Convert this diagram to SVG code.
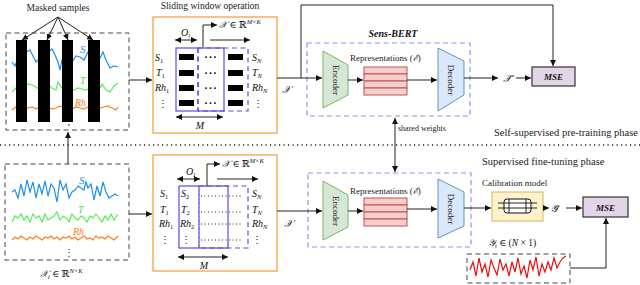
<svg xmlns="http://www.w3.org/2000/svg" width="640" height="285" viewBox="0 0 640 285">
<style>
.t{font-family:"Liberation Serif","DejaVu Serif",serif;fill:#222}
.m{font-family:"Liberation Serif","DejaVu Serif",serif;font-style:italic;fill:#111}
.dots{font-family:"DejaVu Sans",sans-serif;font-size:9px;font-weight:bold;letter-spacing:1px;fill:#111}
.ln{fill:none;stroke:#222;stroke-width:1}
.dbox{fill:none;stroke:#444;stroke-width:1;stroke-dasharray:5,3.5}
.obox{fill:#fff;stroke:#f5a14a;stroke-width:1.3}
.win{fill:none;stroke:#6a45e0;stroke-width:1.2}
.wind{fill:none;stroke:#6a45e0;stroke-width:1.2;stroke-dasharray:5,3.5}
.bert{fill:none;stroke:#8f8fff;stroke-width:1.2;stroke-dasharray:5,3.5}
.enc{fill:#d5e8d4;stroke:#82b366;stroke-width:1}
.dec{fill:#dae8fc;stroke:#6c8ebf;stroke-width:1}
.rep{fill:#f8cecc;stroke:#b85450;stroke-width:1}
.mse{fill:#e1d5e7;stroke:#333;stroke-width:1.2}
.blk{fill:#000}
.sb{fill:none;stroke:#1e8ff0;stroke-width:1.2}
.sg{fill:none;stroke:#55ee55;stroke-width:1.2}
.so{fill:none;stroke:#ff7f1a;stroke-width:1.2}
.sr{fill:none;stroke:#e81010;stroke-width:1.2}
</style>
<defs>
<marker id="ah" viewBox="0 0 6 6" refX="6" refY="3" markerWidth="6" markerHeight="6" markerUnits="userSpaceOnUse" orient="auto-start-reverse">
<path d="M0,0 L6,3 L0,6 z" fill="#111"/>
</marker>
</defs>

<!-- top input -->
<g id="masked-input">
<text class="t" x="58" y="11" font-size="9.5" text-anchor="middle">Masked samples</text>
<rect class="dbox" x="6" y="33" width="123" height="97"/>
<polyline class="sb" points="12,62 15,66 18,58 22,54 26,52 30,50 33,56 36,62 40,58 44,54 48,52 52,49 55,55 58,62 60,70 62,60 65,52 68,58 72,62 76,56 80,57 84,60 88,52 92,58 96,66 100,58 103,52 106,60 110,68 114,66 118,67"/>
<polyline class="sg" points="12,92 16,88 20,90 24,86 28,84 32,85 36,87 40,90 44,86 48,84 52,88 56,90 58,82 62,88 66,90 70,88 74,90 78,88 82,89 86,90 90,88 94,90 98,92 102,84 106,90 110,92 114,86 118,83"/>
<polyline class="so" points="12,110 16,107 20,108 24,106 28,108 32,107 36,109 40,106 44,108 48,107 52,109 56,108 60,106 64,108 68,107 72,109 76,107 80,108 84,109 88,107 92,108 96,110 100,108 104,107 108,106 112,108 116,110 118,107"/>
<text class="m" x="80" y="53" font-size="11" style="fill:#1e8ff0">S</text>
<text class="m" x="80" y="84" font-size="10" style="fill:#44dd44">T</text>
<text class="m" x="75" y="106" font-size="10" style="fill:#ff7f1a">Rh</text>
<rect class="blk" x="16" y="40" width="11" height="82"/>
<rect class="blk" x="38" y="40" width="12" height="82"/>
<rect class="blk" x="62" y="40" width="11" height="82"/>
<rect class="blk" x="88" y="40" width="12" height="82"/>
<circle cx="69" cy="125" r="0.8" fill="#111"/>
</g>

<!-- bottom input -->
<g id="raw-input">
<rect class="dbox" x="5" y="164" width="124" height="96"/>
<polyline class="sb" points="12,192 15,190 18,198 21,184 24,196 27,180 30,192 33,182 36,198 39,184 42,194 45,181 48,196 51,184 54,188 57,202 60,180 63,190 66,184 69,198 72,192 75,190 78,186 81,188 84,190 86,182 88,188 91,184 94,200 97,186 100,196 103,182 106,192 109,198 112,196 115,194 118,196"/>
<polyline class="sg" points="12,222 15,216 18,218 21,214 24,220 27,216 30,222 33,214 36,218 39,216 42,222 45,214 48,220 51,218 54,216 57,212 60,220 63,216 66,218 69,222 72,214 75,218 78,220 81,216 84,218 87,222 90,216 93,218 96,214 99,218 102,222 105,216 108,220 111,214 114,220 118,214"/>
<polyline class="so" points="12,240 15,237 18,239 21,236 24,238 27,240 30,237 33,239 36,236 39,238 42,240 45,237 48,238 51,236 54,239 57,237 60,240 63,237 66,238 69,236 72,239 75,237 78,240 81,238 84,236 87,239 90,238 93,240 96,236 99,238 102,237 105,239 108,236 111,238 114,240 118,236"/>
<text class="m" x="79" y="184" font-size="11" style="fill:#1e8ff0">S</text>
<text class="m" x="78" y="213" font-size="10" style="fill:#44dd44">T</text>
<text class="m" x="73" y="235" font-size="10" style="fill:#ff7f1a">Rh</text>
<text class="t" x="69" y="256" font-size="10" text-anchor="middle">⋮</text>
<text class="m" x="40" y="277" font-size="9.5">𝒳<tspan font-size="6.5" dy="2">t</tspan><tspan font-style="normal" dy="-2"> ∈ ℝ</tspan><tspan font-size="6.5" dy="-4">N×K</tspan></text>
</g>

<!-- top sliding window -->
<g id="window-top">
<text class="t" x="210" y="9" font-size="9.5" text-anchor="middle">Sliding window operation</text>
<rect class="obox" x="153" y="17" width="124" height="116"/>
<text class="m" x="181" y="36" font-size="10">O<tspan font-size="6.5" dy="2">l</tspan></text>
<line class="ln" x1="175" y1="40" x2="197" y2="40" marker-start="url(#ah)" marker-end="url(#ah)"/>
<polyline class="ln" points="203,47 203,25 217,25" marker-end="url(#ah)"/>
<text class="m" x="219" y="28" font-size="9.5">𝒳<tspan font-style="normal"> ∈ ℝ</tspan><tspan font-size="6.5" dy="-4">M×K</tspan></text>
<line class="ln" x1="210" y1="40" x2="250" y2="40" marker-end="url(#ah)"/>
<rect class="win" x="176" y="48" width="48" height="63"/>
<line class="wind" x1="198" y1="48" x2="198" y2="111"/>
<rect class="wind" x="198" y="48" width="50" height="63"/>
<rect class="blk" x="179" y="54" width="15" height="6"/>
<rect class="blk" x="179" y="70" width="15" height="6"/>
<rect class="blk" x="179" y="85" width="15" height="6"/>
<rect class="blk" x="179" y="100" width="15" height="6"/>
<rect class="blk" x="228" y="54" width="15" height="6"/>
<rect class="blk" x="228" y="70" width="15" height="6"/>
<rect class="blk" x="228" y="85" width="15" height="6"/>
<rect class="blk" x="228" y="100" width="15" height="6"/>
<text class="dots" x="211" y="60" text-anchor="middle">···</text>
<text class="dots" x="211" y="76" text-anchor="middle">···</text>
<text class="dots" x="211" y="91" text-anchor="middle">···</text>
<text class="dots" x="211" y="106" text-anchor="middle">···</text>
<text class="m" x="155" y="61" font-size="10">S<tspan font-style="normal" font-size="6.5" dy="2">1</tspan></text>
<text class="m" x="156" y="76" font-size="10">T<tspan font-style="normal" font-size="6.5" dy="2">1</tspan></text>
<text class="m" x="155" y="91" font-size="10">Rh<tspan font-style="normal" font-size="6.5" dy="2">1</tspan></text>
<text class="t" x="163" y="107" font-size="10" text-anchor="middle">⋮</text>
<text class="m" x="252" y="61" font-size="10">S<tspan font-size="6.5" dy="2">N</tspan></text>
<text class="m" x="252" y="76" font-size="10">T<tspan font-size="6.5" dy="2">N</tspan></text>
<text class="m" x="252" y="91" font-size="10">Rh<tspan font-size="6.5" dy="2">N</tspan></text>
<text class="t" x="258" y="107" font-size="10" text-anchor="middle">⋮</text>
<line class="ln" x1="176" y1="117" x2="223" y2="117" marker-start="url(#ah)" marker-end="url(#ah)"/>
<text class="m" x="200" y="129" font-size="10" text-anchor="middle">M</text>
</g>

<!-- bottom sliding window -->
<g id="window-bottom">
<rect class="obox" x="153" y="155" width="124" height="116"/>
<text class="m" x="186" y="175" font-size="10">O<tspan font-size="6.5" dy="2">l</tspan></text>
<line class="ln" x1="177" y1="179" x2="200" y2="179" marker-start="url(#ah)" marker-end="url(#ah)"/>
<polyline class="ln" points="207,187 207,164 220,164" marker-end="url(#ah)"/>
<text class="m" x="222" y="167" font-size="9.5">𝒳<tspan font-style="normal"> ∈ ℝ</tspan><tspan font-size="6.5" dy="-4">M×K</tspan></text>
<line class="ln" x1="217" y1="179" x2="258" y2="179" marker-end="url(#ah)"/>
<rect class="win" x="179" y="186" width="49" height="62"/>
<line class="wind" x1="199" y1="186" x2="199" y2="248"/>
<rect class="wind" x="199" y="186" width="49" height="62"/>
<text class="m" x="160" y="197" font-size="10">S<tspan font-style="normal" font-size="6.5" dy="2">1</tspan></text>
<text class="m" x="160" y="213" font-size="10">T<tspan font-style="normal" font-size="6.5" dy="2">1</tspan></text>
<text class="m" x="159" y="227" font-size="10">Rh<tspan font-style="normal" font-size="6.5" dy="2">1</tspan></text>
<text class="t" x="165" y="243" font-size="10" text-anchor="middle">⋮</text>
<text class="m" x="181" y="197" font-size="10">S<tspan font-style="normal" font-size="6.5" dy="2">2</tspan></text>
<text class="m" x="181" y="213" font-size="10">T<tspan font-style="normal" font-size="6.5" dy="2">2</tspan></text>
<text class="m" x="180" y="227" font-size="10">Rh<tspan font-style="normal" font-size="6.5" dy="2">2</tspan></text>
<text class="t" x="186" y="243" font-size="10" text-anchor="middle">⋮</text>
<line class="ln" x1="201" y1="196" x2="242" y2="196" stroke-dasharray="1,2.5" stroke-width="1.3"/>
<line class="ln" x1="201" y1="212" x2="242" y2="212" stroke-dasharray="1,2.5" stroke-width="1.3"/>
<line class="ln" x1="201" y1="224" x2="242" y2="224" stroke-dasharray="1,2.5" stroke-width="1.3"/>
<line class="ln" x1="201" y1="240" x2="242" y2="240" stroke-dasharray="1,2.5" stroke-width="1.3"/>
<text class="m" x="252" y="197" font-size="10">S<tspan font-size="6.5" dy="2">N</tspan></text>
<text class="m" x="252" y="213" font-size="10">T<tspan font-size="6.5" dy="2">N</tspan></text>
<text class="m" x="252" y="227" font-size="10">Rh<tspan font-size="6.5" dy="2">N</tspan></text>
<text class="t" x="257" y="243" font-size="10" text-anchor="middle">⋮</text>
<line class="ln" x1="178" y1="257" x2="228" y2="257" marker-start="url(#ah)" marker-end="url(#ah)"/>
<text class="m" x="204" y="269" font-size="10" text-anchor="middle">M</text>
</g>

<!-- top Sens-BERT -->
<g id="sensbert-top">
<text class="m" x="393" y="37" font-size="10" font-weight="bold" text-anchor="middle">Sens-BERT</text>
<rect class="bert" x="307" y="43" width="163" height="73"/>
<polygon class="enc" points="323,51 348,65 348,95 323,108"/>
<text class="t" transform="translate(333,80) rotate(90)" font-size="9" text-anchor="middle">Encoder</text>
<text class="t" x="350" y="61" font-size="9">Representations (<tspan class="m">ℰ</tspan>)</text>
<rect class="rep" x="364" y="67" width="43" height="7"/>
<rect class="rep" x="364" y="74" width="43" height="7"/>
<rect class="rep" x="364" y="81" width="43" height="7"/>
<rect class="rep" x="364" y="88" width="43" height="7"/>
<polygon class="dec" points="438,48 464,61 464,95 438,111"/>
<text class="t" transform="translate(448,80) rotate(90)" font-size="9" text-anchor="middle">Decoder</text>
</g>

<!-- bottom Sens-BERT -->
<g id="sensbert-bottom">
<rect class="bert" x="308" y="173" width="163" height="74"/>
<polygon class="enc" points="323,181 348,195 348,227 323,240"/>
<text class="t" transform="translate(333,211) rotate(90)" font-size="9" text-anchor="middle">Encoder</text>
<text class="t" x="350" y="194" font-size="9">Representations (<tspan class="m">ℰ</tspan>)</text>
<rect class="rep" x="364" y="198" width="43" height="7"/>
<rect class="rep" x="364" y="205" width="43" height="7"/>
<rect class="rep" x="364" y="212" width="43" height="7"/>
<rect class="rep" x="364" y="219" width="43" height="7"/>
<polygon class="dec" points="438,179 464,192 464,226 438,238"/>
<text class="t" transform="translate(448,209) rotate(90)" font-size="9" text-anchor="middle">Decoder</text>
</g>

<!-- MSE top -->
<g id="mse-top">
<rect class="mse" x="532" y="67" width="43" height="19"/>
<text class="m" x="553.5" y="80" font-size="9" font-weight="bold" text-anchor="middle">MSE</text>
</g>
<text class="m" x="503" y="82" font-size="10">𝒳̂</text>

<!-- calibration -->
<g id="calibration">
<text class="t" x="482" y="186" font-size="9">Calibration model</text>
<rect x="492" y="192" width="51" height="29" fill="#fff2cc" stroke="#d6b656" stroke-width="1"/>
<rect x="504" y="199" width="27" height="14" rx="3" fill="#fff" stroke="#111" stroke-width="1"/>
<line class="ln" x1="498" y1="203" x2="537" y2="203"/>
<line class="ln" x1="498" y1="208" x2="537" y2="208"/>
<line class="ln" x1="509" y1="199" x2="509" y2="213"/>
<line class="ln" x1="526" y1="199" x2="526" y2="213"/>
</g>
<text class="m" x="550" y="212" font-size="10">𝒴̂</text>

<g id="mse-bottom">
<rect class="mse" x="583" y="197" width="45" height="20"/>
<text class="m" x="605.5" y="210.5" font-size="9" font-weight="bold" text-anchor="middle">MSE</text>
</g>

<g id="target">
<text class="m" x="488" y="246" font-size="9.5">𝒴<tspan font-size="6.5" dy="2">t</tspan><tspan font-style="normal" dy="-2"> ∈ (</tspan>N<tspan font-style="normal"> × 1)</tspan></text>
<rect class="dbox" x="467" y="254" width="103" height="29"/>
<polyline class="sr" points="470,270 473,262 476,276 479,258 482,272 485,264 488,277 491,260 494,268 497,275 500,259 503,270 506,264 509,276 512,262 515,272 518,258 521,274 524,266 527,278 530,260 533,270 536,257 539,276 542,264 545,272 548,262 551,270 554,258 557,268 560,262 563,258 566,256"/>
</g>

<!-- phase labels -->
<text class="t" x="638" y="136" font-size="10.5" text-anchor="end">Self-supervised pre-training phase</text>
<text class="t" x="482" y="165" font-size="10.5">Supervised fine-tuning phase</text>
<text class="t" x="398" y="131" font-size="8">shared weights</text>
<line x1="0" y1="145" x2="640" y2="145" stroke="#222" stroke-width="1.4" stroke-dasharray="1.2,3.3"/>

<!-- connectors -->
<g id="connectors">
<line class="ln" x1="58" y1="17" x2="22" y2="40" marker-end="url(#ah)"/>
<line class="ln" x1="58" y1="17" x2="47" y2="40" marker-end="url(#ah)"/>
<line class="ln" x1="58" y1="17" x2="68" y2="40" marker-end="url(#ah)"/>
<line class="ln" x1="58" y1="17" x2="93" y2="40" marker-end="url(#ah)"/>
<line class="ln" x1="68" y1="164" x2="68" y2="132" marker-end="url(#ah)"/>
<line class="ln" x1="129" y1="80" x2="152" y2="80" marker-end="url(#ah)"/>
<line class="ln" x1="129" y1="214" x2="152" y2="214" marker-end="url(#ah)"/>
<line class="ln" x1="277" y1="78" x2="322" y2="78" marker-end="url(#ah)"/>
<polyline class="ln" points="301,78 301,5 553,5 553,66" marker-end="url(#ah)"/>
<line class="ln" x1="348" y1="80" x2="363" y2="80" marker-end="url(#ah)"/>
<line class="ln" x1="407" y1="80" x2="437" y2="80" marker-end="url(#ah)"/>
<line class="ln" x1="464" y1="78" x2="498" y2="78" marker-end="url(#ah)"/>
<line class="ln" x1="516" y1="78" x2="531" y2="78" marker-end="url(#ah)"/>
<line class="ln" x1="395" y1="118" x2="395" y2="172" marker-start="url(#ah)" marker-end="url(#ah)"/>
<line class="ln" x1="277" y1="211" x2="322" y2="211" marker-end="url(#ah)"/>
<line class="ln" x1="348" y1="211" x2="363" y2="211" marker-end="url(#ah)"/>
<line class="ln" x1="407" y1="209" x2="437" y2="209" marker-end="url(#ah)"/>
<line class="ln" x1="464" y1="208" x2="491" y2="208" marker-end="url(#ah)"/>
<line class="ln" x1="543" y1="208" x2="549" y2="208" marker-end="url(#ah)"/>
<line class="ln" x1="566" y1="208" x2="582" y2="208" marker-end="url(#ah)"/>
<polyline class="ln" points="570,268 606,268 606,218" marker-end="url(#ah)"/>
<text class="m" x="282" y="93" font-size="10">𝒳</text>
<text class="m" x="284" y="227" font-size="10">𝒳</text>
</g>
</svg>
